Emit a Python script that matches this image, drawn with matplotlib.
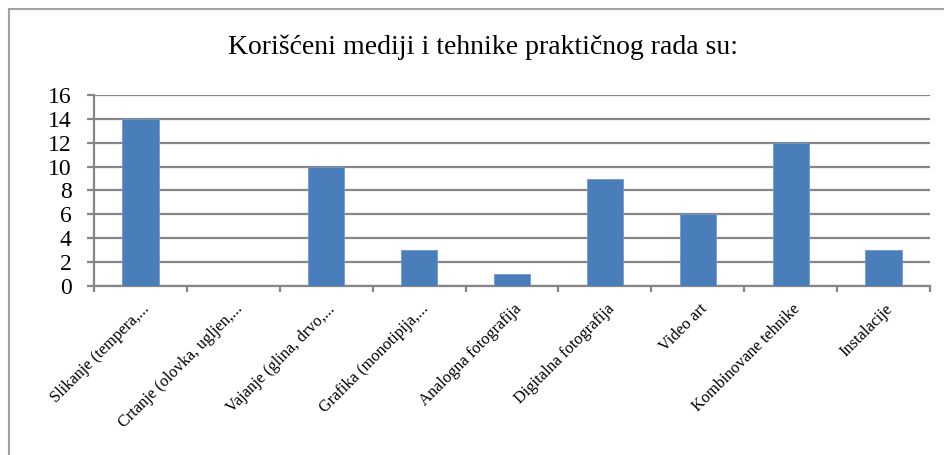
#!/usr/bin/env python3
"""Bar chart: used media and techniques of practical work."""

import matplotlib

matplotlib.use("Agg")

import matplotlib.pyplot as plt
import matplotlib.transforms as mtransforms
import numpy as np
from matplotlib.patches import Rectangle

categories = [
    "Slikanje (tempera,...",
    "Crtanje (olovka, ugljen,...",
    "Vajanje (glina, drvo,...",
    "Grafika (monotipija,...",
    "Analogna fotografija",
    "Digitalna fotografija",
    "Video art",
    "Kombinovane tehnike",
    "Instalacije",
]
counts = [14, 0, 10, 3, 1, 9, 6, 12, 3]
y_ticks = [0, 2, 4, 6, 8, 10, 12, 14, 16]
title = "Korišćeni mediji i tehnike praktičnog rada su:"

BAR_COLOR = "#4a7ebb"
GRID_COLOR = "#868686"

plt.rcParams["font.family"] = ["Liberation Serif", "DejaVu Serif"]

fig = plt.figure(figsize=(9.44, 4.55), dpi=100)
ax = fig.add_axes([94 / 944, 1 - 286 / 455, 836 / 944, 191 / 455])

x = np.arange(len(categories))
ax.bar(x, counts, width=0.39, color=BAR_COLOR, edgecolor="#6f9ad0", linewidth=0.6, zorder=3)

ax.set_xlim(-0.5, len(categories) - 0.5)
ax.set_ylim(0, 16)
ax.set_yticks(y_ticks)
ax.yaxis.grid(True, color=GRID_COLOR, linewidth=1.6, zorder=0)
ax.tick_params(axis="y", length=5, width=1.6, color=GRID_COLOR, labelsize=17, pad=11)

# category boundaries carry the tick marks, centres carry the labels
ax.set_xticks(np.arange(len(categories) + 1) - 0.5, minor=True)
ax.set_xticks(x)
ax.set_xticklabels(categories, rotation=45, ha="right", va="center", rotation_mode="anchor", fontsize=11.8)
ax.tick_params(axis="x", which="major", length=0, pad=15)
ax.tick_params(axis="x", which="minor", length=4, width=1.6, color=GRID_COLOR)
shift = mtransforms.ScaledTranslation(5 / 72, 0, fig.dpi_scale_trans)
for lbl in ax.get_xticklabels():
    lbl.set_transform(lbl.get_transform() + shift)

for side in ("top", "right"):
    ax.spines[side].set_visible(False)
for side in ("left", "bottom"):
    ax.spines[side].set_color(GRID_COLOR)
    ax.spines[side].set_linewidth(1.6)

fig.text(483 / 944, 1 - 47 / 455, title, ha="center", va="center", fontsize=20)

# outer chart border (open on right and bottom, as cropped)
fig.patches.append(
    Rectangle((9 / 944, -0.1), 1.2, 1 - 9 / 455 + 0.1, transform=fig.transFigure,
              fill=False, edgecolor="#a0a0a0", linewidth=1.5)
)

fig.savefig("out.png", dpi=100, facecolor="white")
